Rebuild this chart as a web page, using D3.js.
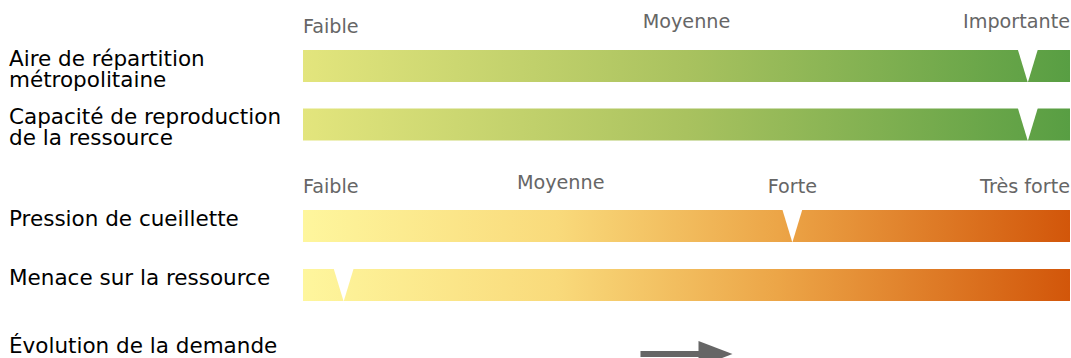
<!DOCTYPE html>
<html>
<head>
<meta charset="utf-8">
<script src="https://cdn.jsdelivr.net/npm/d3@7"></script>
<style>
  html, body { margin: 0; padding: 0; background: #fff; }
  svg { display: block; }
  text { font-family: "DejaVu Sans", sans-serif; }
</style>
</head>
<body>
<svg id="chart" width="1071" height="358"></svg>
<script>
// ---------- DATA ----------
const rowLabels = [
  ["Aire de répartition", "métropolitaine"],
  ["Capacité de reproduction", "de la ressource"],
  ["Pression de cueillette"],
  ["Menace sur la ressource"]
];
const rowValues = [94.5, 94.5, 63.8, 5.3];        // position of marker on a 0–100 scale
const rowPalette = ["green", "green", "orange", "orange"];

const scale1Labels = ["Faible", "Moyenne", "Importante"];
const scale1Pos = [0, 50, 100];
const scale2Labels = ["Faible", "Moyenne", "Forte", "Très forte"];
const scale2Pos = [0, 33.6, 63.8, 100];

const demandLabel = "Évolution de la demande";
const demandTrend = [44, 56];   // arrow from -> to on the 0–100 scale (increasing)

// ---------- LAYOUT ----------
const svg = d3.select("#chart");
const x = d3.scaleLinear().domain([0, 100]).range([303, 1070]);
const barTops = [50, 108.5, 210, 269];
const barH = 32;
const notchHalf = 10;

const defs = svg.append("defs");
const gradStops = {
  green: [[0, "#e3e57d"], [0.5, "#a9c25f"], [1, "#589e43"]],
  orange: [[0, "#fef69d"], [0.33, "#f9da7b"], [0.62, "#eca547"], [1, "#d2560a"]]
};
Object.entries(gradStops).forEach(([k, stops]) => {
  const g = defs.append("linearGradient").attr("id", "g-" + k)
    .attr("x1", "0%").attr("x2", "100%").attr("y1", "0%").attr("y2", "0%");
  stops.forEach(([o, c]) => g.append("stop").attr("offset", o).attr("stop-color", c));
});

// Bars
const rows = svg.selectAll("g.row").data(rowValues.map((v, i) => ({
  v, i, labels: rowLabels[i], pal: rowPalette[i], y: barTops[i]
}))).join("g").attr("class", "row");

rows.append("rect")
  .attr("x", x(0)).attr("y", d => d.y)
  .attr("width", x(100) - x(0)).attr("height", barH)
  .attr("fill", d => `url(#g-${d.pal})`);

rows.append("path")
  .attr("d", d => {
    const cx = x(d.v);
    return `M${cx - notchHalf},${d.y - 0.5} L${cx + notchHalf},${d.y - 0.5} L${cx},${d.y + barH + 0.5} Z`;
  })
  .attr("fill", "#fff");

// Row labels
const labelBaselines = [[66, 87], [124, 145], [226], [285]];
rows.append("text")
  .attr("x", 9)
  .attr("font-size", 21.5)
  .attr("fill", "#000")
  .each(function (d) {
    d3.select(this).selectAll("tspan").data(d.labels).join("tspan")
      .attr("x", 9)
      .attr("y", (t, j) => labelBaselines[d.i][j])
      .text(t => t);
  });

// Scale labels
function scaleLabels(labels, pos, baselines) {
  svg.append("g").selectAll("text").data(labels).join("text")
    .attr("x", (d, i) => x(pos[i]))
    .attr("y", (d, i) => baselines[i])
    .attr("text-anchor", (d, i) => i === 0 ? "start" : (i === labels.length - 1 ? "end" : "middle"))
    .attr("font-size", 19.2)
    .attr("fill", "#666")
    .text(d => d);
}
scaleLabels(scale1Labels, scale1Pos, [32.5, 28, 28]);
scaleLabels(scale2Labels, scale2Pos, [192.5, 189, 192.5, 192.5]);

// Demand row
svg.append("text").attr("x", 9).attr("y", 353).attr("font-size", 21.5).attr("fill", "#000").text(demandLabel);
const ay = 354;
const x0 = x(demandTrend[0]), x1 = x(demandTrend[1]);
svg.append("rect").attr("x", x0).attr("y", ay - 3).attr("width", (x1 - x0) - 20).attr("height", 6).attr("fill", "#666");
svg.append("path")
  .attr("d", `M${x1 - 34},${ay - 13} L${x1},${ay} L${x1 - 34},${ay + 13} Z`)
  .attr("fill", "#666");
</script>
</body>
</html>
